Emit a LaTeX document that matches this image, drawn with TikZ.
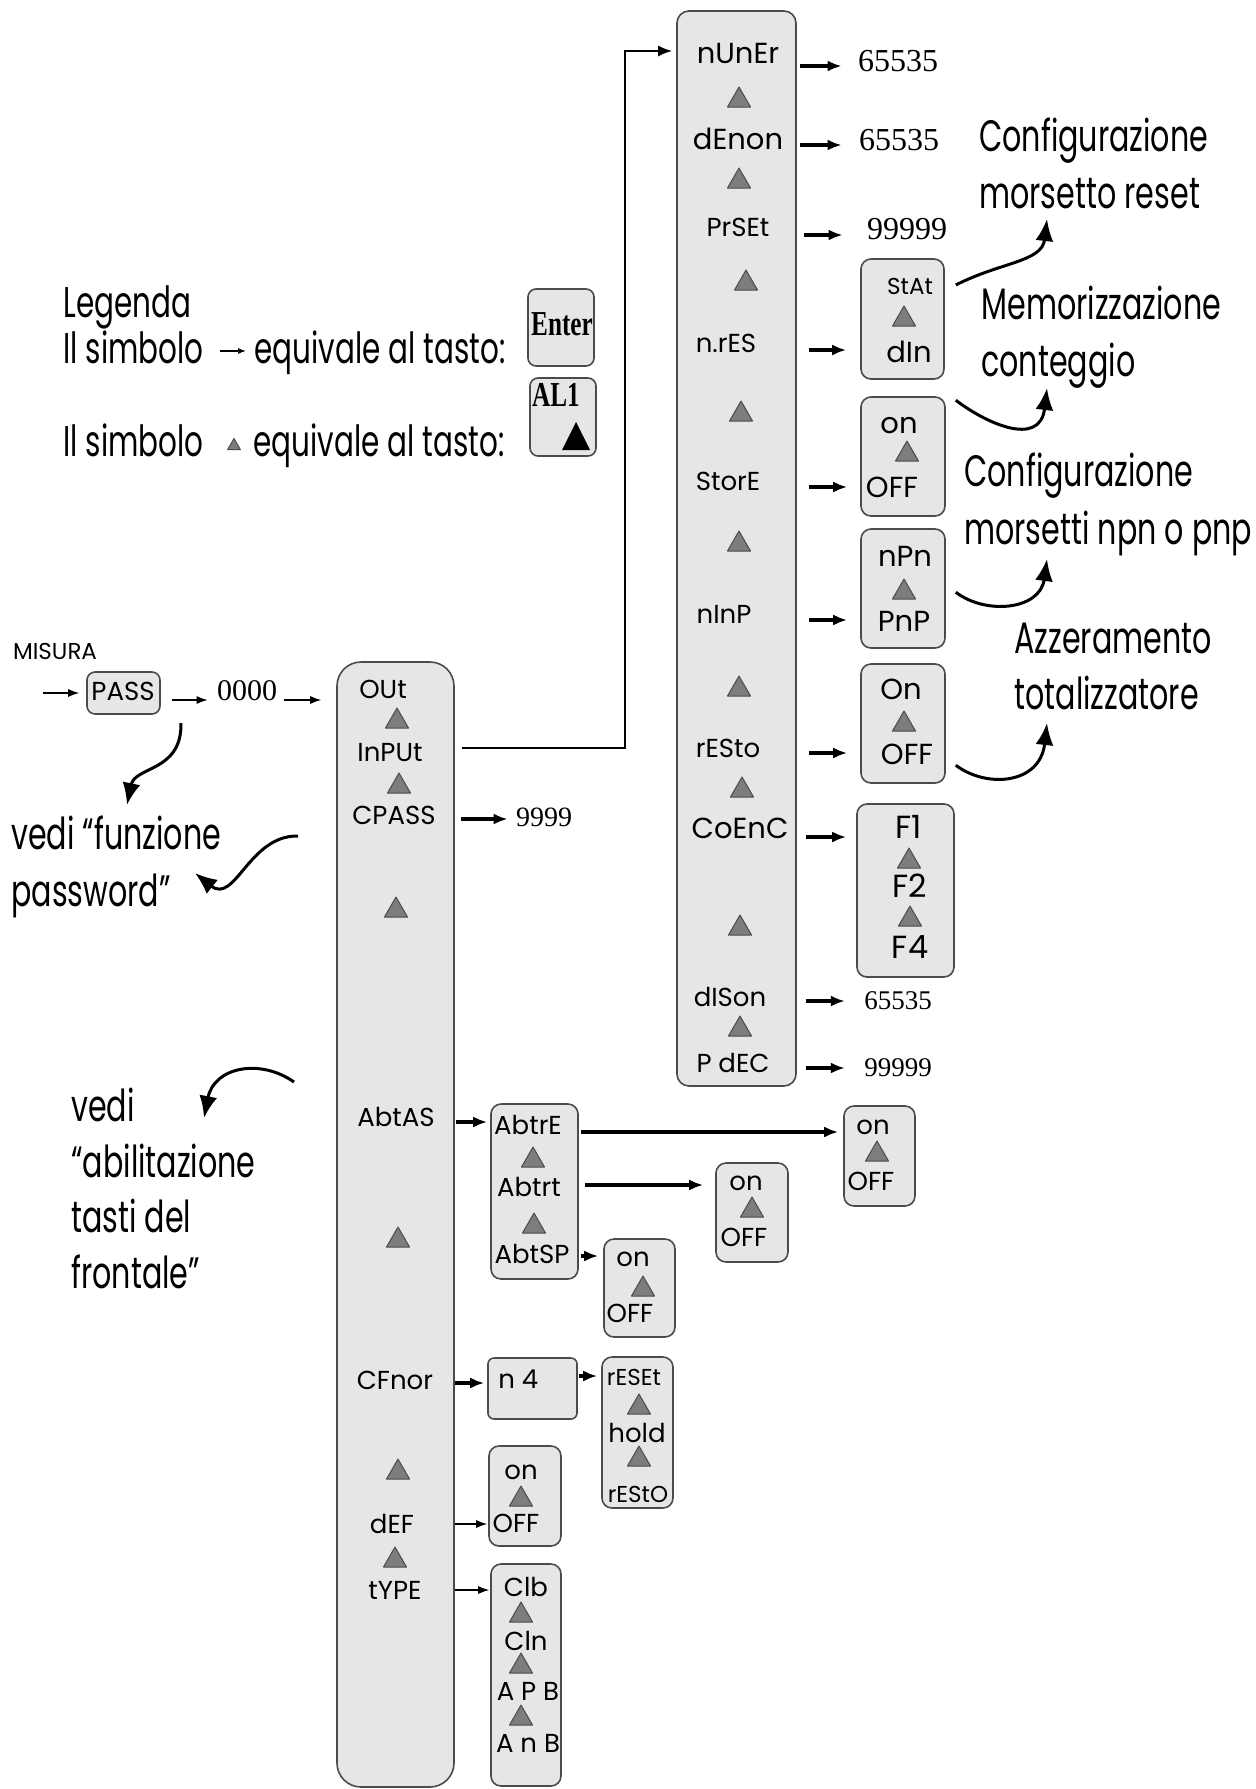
\documentclass[tikz,border=0pt]{standalone}
\usepackage{fontspec}
\setmainfont{Liberation Serif}
\newfontfamily\disp{Poppins}
\newfontfamily\hand[FakeStretch=0.685]{Poppins}
\newfontfamily\keyf[FakeStretch=0.72]{Liberation Serif}
\usetikzlibrary{arrows.meta,fit}
\definecolor{boxfill}{RGB}{230,230,230}
\definecolor{trifill}{RGB}{125,125,125}
\definecolor{edge}{RGB}{75,75,75}
\tikzset{
  panel/.style={draw=edge, fill=boxfill, line width=0.8pt, rounded corners=5pt, inner sep=0pt},
  lbl/.style={inner sep=0pt, text height=9.3pt, text depth=0pt},
  L/.style={lbl, font=\disp\fontsize{14.5}{14.5}\selectfont},
  M/.style={lbl, font=\disp\fontsize{13}{13}\selectfont},
  S/.style={lbl, font=\disp\fontsize{11.5}{11.5}\selectfont},
  XL/.style={lbl, font=\disp\fontsize{16}{16}\selectfont},
  numL/.style={inner sep=0pt, text height=11.8pt, text depth=0pt, font=\fontsize{16}{16}\selectfont},
  numS/.style={inner sep=0pt, text height=10.2pt, text depth=0pt, font=\fontsize{13.5}{13.5}\selectfont},
  note/.style={inner sep=0pt, anchor=west, text height=14.5pt, text depth=0pt, font=\hand\fontsize{22}{22}\selectfont},
  legtxt/.style={inner sep=0pt, anchor=west, text height=14.5pt, text depth=0pt, font=\hand\fontsize{21.5}{21.5}\selectfont},
  arr/.style={-{Latex[length=7pt,width=5.5pt]}, line width=1.6pt},
  thinarr/.style={-{Latex[length=5.5pt,width=4pt]}, line width=0.6pt},
  conn/.style={-{Latex[length=7pt,width=5.5pt]}, line width=1pt},
  curvy/.style={-{Latex[length=11pt,width=9pt]}, line width=1.5pt},
  uptri/.pic={\filldraw[fill=trifill, draw=edge, line width=0.5pt, line join=round] (-11.5,10) -- (0,-10) -- (11.5,10) -- cycle;},
}
\begin{document}
\begin{tikzpicture}[x=0.5pt,y=-0.5pt]
\useasboundingbox (0,0) rectangle (1255,1789);

% ---------------- right column ----------------
\node[panel, rounded corners=6pt, fit={(677,11) (796,1086)}] (colR) {};
\node[L] (nun) at (738,54) {nUnEr};
\pic at (739,97) {uptri};
\node[L] (den) at (738,140) {dEnon};
\pic at (739,178) {uptri};
\node[M] (prs) at (738,227) {PrSEt};
\pic at (746,280) {uptri};
\node[M] (nres) at (726,343) {n.rES};
\pic at (741,411) {uptri};
\node[M] (sto) at (728,481) {StorE};
\pic at (739,541) {uptri};
\node[M] (ninp) at (724,614) {nInP};
\pic at (739,686) {uptri};
\node[M] (rest) at (728,748) {rESto};
\pic at (742,787) {uptri};
\node[L] (coen) at (740,829) {CoEnC};
\pic at (740,925) {uptri};
\node[M] (dis) at (730,997) {dISon};
\pic at (740,1026) {uptri};
\node[M] (pdec) at (733,1063) {P dEC};

% values
\node[numL] (v1) at (898,60) {65535};
\node[numL] (v2) at (899,139) {65535};
\node[numL] (v3) at (907,228) {99999};
\node[numS] (v4) at (898,999) {65535};
\node[numS] (v5) at (898,1066) {99999};

% sub boxes
\node[panel, fit={(861,259) (944,379)}] (bStat) {};
\node[S] (stat) at (910,285) {StAt};
\pic at (904,316) {uptri};
\node[L] (din) at (909,353) {dIn};

\node[panel, fit={(861,397) (945,516)}] (bStore) {};
\node[L] (on1) at (899,424) {on};
\pic at (907,451) {uptri};
\node[L] (off1) at (892,488) {OFF};

\node[panel, fit={(861,529) (945,648)}] (bNpn) {};
\node[L] (npn) at (905,557) {nPn};
\pic at (904,589) {uptri};
\node[L] (pnp) at (904,622) {PnP};

\node[panel, fit={(861,664) (945,783)}] (bOn) {};
\node[L] (on2) at (901,690) {On};
\pic at (904,721) {uptri};
\node[L] (off2) at (907,755) {OFF};

\node[panel, fit={(857,804) (954,977)}] (bF) {};
\node[XL] (f1) at (909,829) {F1};
\pic at (909,858) {uptri};
\node[XL] (f2) at (910,888) {F2};
\pic at (910,916) {uptri};
\node[XL] (f4) at (910,949) {F4};

% arrows from right column
\draw[arr] ([xshift=1.5pt,yshift=-3pt]colR.east |- v1) -- ([xshift=-8pt,yshift=-3pt]v1.west);
\draw[arr] ([xshift=1.5pt,yshift=-3pt]colR.east |- v2) -- ([xshift=-8.5pt,yshift=-3pt]v2.west);
\draw[arr] ([xshift=3.5pt,yshift=-3.5pt]colR.east |- v3) -- ([xshift=-12pt,yshift=-3.5pt]v3.west);
\draw[arr] ([xshift=6pt,yshift=-3.5pt]colR.east |- nres) -- ([xshift=-7pt,yshift=-3.5pt]bStat.west |- nres);
\draw[arr] ([xshift=6pt,yshift=-3pt]colR.east |- sto) -- ([xshift=-6.5pt,yshift=-3pt]bStore.west |- sto);
\draw[arr] ([xshift=6pt,yshift=-3pt]colR.east |- ninp) -- ([xshift=-6.5pt,yshift=-3pt]bNpn.west |- ninp);
\draw[arr] ([xshift=6pt,yshift=-2.5pt]colR.east |- rest) -- ([xshift=-6.5pt,yshift=-2.5pt]bOn.west |- rest);
\draw[arr] ([xshift=4.5pt,yshift=-4pt]colR.east |- coen) -- ([xshift=-5pt,yshift=-4pt]bF.west |- coen);
\draw[arr] ([xshift=4.5pt,yshift=-1pt]colR.east |- v4) -- ([xshift=-9.5pt,yshift=-1pt]v4.west);
\draw[arr] ([xshift=4.5pt,yshift=-1pt]colR.east |- v5) -- ([xshift=-9.5pt,yshift=-1pt]v5.west);

% ---------------- notes on the right ----------------
\node[note] (n1a) at (979,137) {Configurazione};
\node[note] (n1b) at (979,194) {morsetto reset};
\node[note] (n2a) at (981,305) {Memorizzazione};
\node[note] (n2b) at (981,362) {conteggio};
\node[note] (n3a) at (964,472) {Configurazione};
\node[note] (n3b) at (964,530) {morsetti npn o pnp};
\node[note] (n4a) at (1014,639) {Azzeramento};
\node[note] (n4b) at (1014,695) {totalizzatore};

\coordinate (t1) at (1047,219);
\coordinate (t2) at (1047,388);
\coordinate (t3) at (1047,559);
\coordinate (t4) at (1047,723);
\draw[curvy] ([xshift=5.5pt]bStat.east |- stat) .. controls +(45,-23) and +(-5,43) .. (t1);
\draw[curvy] ([xshift=5pt,yshift=-2pt]bStore.north east) .. controls +(30,23) and +(-7,60) .. (t2);
\draw[curvy] ([xshift=5pt,yshift=-32pt]bNpn.north east) .. controls +(30,23) and +(-7,51) .. (t3);
\draw[curvy] ([xshift=5pt,yshift=-51pt]bOn.north east) .. controls +(30,23) and +(-7,62) .. (t4);

% ---------------- legend ----------------
\node[legtxt] (leg) at (63,303) {Legenda};
\node[legtxt] (l1a) at (63,349) {Il simbolo};
\node[legtxt] (l1b) at (254,349) {equivale al tasto:};
\draw[-{Latex[length=4pt,width=3pt]}, line width=0.6pt] ([xshift=-17pt,yshift=-1pt]l1b.west) -- ([xshift=-4pt,yshift=-1pt]l1b.west);
\node[legtxt] (l2a) at (63,442) {Il simbolo};
\node[legtxt] (l2b) at (253,442) {equivale al tasto:};
\pic[scale=0.55] at (234,444) {uptri};

\node[panel, rounded corners=4pt, fit={(528,289) (594,366)}] (bEnt) {};
\node[inner sep=0pt, font=\keyf\bfseries\fontsize{17.5}{17.5}\selectfont] (ent) at (562,324) {Enter};
\node[panel, rounded corners=4pt, fit={(530,378) (596,456)}] (bAl) {};
\node[inner sep=0pt, font=\keyf\bfseries\fontsize{17.5}{17.5}\selectfont] (al1) at (556,395) {AL1};
\fill[black] (562,450) -- (576,422) -- (590,450) -- cycle;

% ---------------- left column ----------------
\node[panel, rounded corners=12pt, fit={(337,662) (454,1787)}] (colL) {};
\node[M] (out) at (383,689) {OUt};
\pic at (397,718) {uptri};
\node[M] (inp) at (390,752) {InPUt};
\pic at (399,783) {uptri};
\node[M] (cps) at (394,815) {CPASS};
\pic at (396,907) {uptri};
\node[M] (abt) at (396,1117) {AbtAS};
\pic at (398,1237) {uptri};
\node[M] (cfn) at (395,1380) {CFnor};
\pic at (398,1469) {uptri};
\node[M] (def) at (392,1524) {dEF};
\pic at (395,1557) {uptri};
\node[M] (typ) at (395,1590) {tYPE};

% ---------------- start ----------------
\node[S, font=\disp\fontsize{11.5}{11.5}\selectfont] (mis) at (55,650) {MISURA};
\node[panel, rounded corners=4pt, fit={(87,672) (160,714)}] (bPass) {};
\node[M] (pass) at (123,691) {PASS};
\node[inner sep=0pt, text height=11.4pt, text depth=0pt, font=\fontsize{15}{15}\selectfont] (v0) at (247,689) {0000};
\coordinate (inStart) at (43,693);
\draw[thinarr] (inStart) -- ([xshift=-3.5pt]bPass.west |- inStart);
\draw[thinarr] ([xshift=5.5pt,yshift=-3.5pt]bPass.east) -- ([xshift=-4.5pt,yshift=-3.5pt]v0.west |- bPass.east);
\draw[thinarr] ([xshift=3.5pt,yshift=-3.5pt]v0.east |- bPass.east) -- ([xshift=-7.5pt,yshift=-3.5pt]colL.west |- bPass.east);

% notes left
\node[note] (p1) at (11,835) {vedi “funzione};
\node[note] (p2) at (11,892) {password”};
\node[note] (q1) at (71,1107) {vedi};
\node[note] (q2) at (71,1163) {“abilitazione};
\node[note] (q3) at (71,1218) {tasti del};
\node[note] (q4) at (71,1274) {frontale”};

\coordinate (s1) at (181,723);
\coordinate (e1) at (127,805);
\coordinate (s2) at (298,836);
\coordinate (e2) at (195,873);
\coordinate (s3) at (294,1082);
\coordinate (e3) at (204,1118);
\draw[curvy] (s1) .. controls +(1,49) and +(8,-39) .. (e1);
\draw[curvy] (s2) .. controls +(-49,-1) and +(40,32) .. (e2);
\draw[curvy] (s3) .. controls +(-34,-24) and +(10,-51) .. (e3);

\node[numS, text height=10.2pt, font=\fontsize{14}{14}\selectfont] (v9) at (544,816) {9999};
\draw[arr] ([xshift=3pt,yshift=-1.5pt]colL.east |- v9) -- ([xshift=-4pt,yshift=-1.5pt]v9.west);

% InPUt -> right column
\draw[conn] ([xshift=3.5pt,yshift=2pt]colL.east |- inp) -| ([xshift=-25.5pt,yshift=1.5pt]colR.west |- nun) -- ([xshift=-2pt,yshift=1.5pt]colR.west |- nun);

% Abt boxes
\node[panel, fit={(491,1104) (578,1279)}] (bAbt) {};
\node[M] (abtre) at (528,1125) {AbtrE};
\pic at (533,1157) {uptri};
\node[M] (abtrt) at (529,1187) {Abtrt};
\pic at (534,1223) {uptri};
\node[M] (abtsp) at (532,1254) {AbtSP};

\node[panel, fit={(844,1106) (915,1206)}] (bR1) {};
\node[M] (r1on) at (873,1125) {on};
\pic at (877,1151) {uptri};
\node[M] (r1off) at (871,1181) {OFF};

\node[panel, fit={(716,1163) (788,1262)}] (bR2) {};
\node[M] (r2on) at (746,1181) {on};
\pic at (752,1207) {uptri};
\node[M] (r2off) at (744,1237) {OFF};

\node[panel, fit={(604,1239) (675,1337)}] (bR3) {};
\node[M] (r3on) at (633,1257) {on};
\pic at (643,1286) {uptri};
\node[M] (r3off) at (630,1313) {OFF};

\draw[arr] ([xshift=0.5pt,yshift=-2.5pt]colL.east |- abt) -- ([xshift=-1.5pt,yshift=-2.5pt]bAbt.west |- abt);
\draw[arr] ([xshift=1pt,yshift=-3.5pt]bAbt.east |- abtre) -- ([xshift=-2.5pt,yshift=-3.5pt]bR1.west |- abtre);
\draw[arr] ([xshift=3pt,yshift=1pt]bAbt.east |- abtrt) -- ([xshift=-6pt,yshift=1pt]bR2.west |- abtrt);
\draw[arr] ([xshift=1pt,yshift=-1pt]bAbt.east |- abtsp) -- ([xshift=-2.5pt,yshift=-1pt]bR3.west |- abtsp);

% CFnor
\node[panel, rounded corners=3pt, fit={(488,1358) (577,1419)}] (bN4) {};
\node[M, anchor=west] (n4) at (498,1379) {n 4};
\node[panel, fit={(602,1357) (673,1508)}] (bRes) {};
\node[S] (rset) at (634,1376) {rESEt};
\pic at (639,1404) {uptri};
\node[M] (hold) at (637,1433) {hold};
\pic at (639,1456) {uptri};
\node[S] (rsto) at (638,1493) {rEStO};
\draw[arr] ([yshift=-1.5pt]colL.east |- cfn) -- ([xshift=-1.5pt,yshift=-1.5pt]bN4.west |- cfn);
\draw[arr] ([xshift=0.5pt,yshift=1.5pt]bN4.east |- n4) -- ([xshift=-2pt,yshift=1.5pt]bRes.west |- n4);

% dEF
\node[panel, fit={(489,1446) (561,1546)}] (bDef) {};
\node[M] (don) at (521,1470) {on};
\pic at (521,1496) {uptri};
\node[M] (doff) at (516,1523) {OFF};
\draw[thinarr] (colL.east |- def) -- ([xshift=-0.5pt]bDef.west |- def);

% tYPE
\node[panel, fit={(491,1564) (561,1786)}] (bTyp) {};
\node[M] (clb) at (526,1587) {Clb};
\pic at (521,1612) {uptri};
\node[M] (cln) at (526,1641) {Cln};
\pic at (521,1663) {uptri};
\node[M] (apb) at (528,1691) {A P B};
\pic at (521,1715) {uptri};
\node[M] (anb) at (528,1743) {A n B};
\draw[thinarr] (colL.east |- typ) -- ([xshift=-0.5pt]bTyp.west |- typ);

\end{tikzpicture}
\end{document}
